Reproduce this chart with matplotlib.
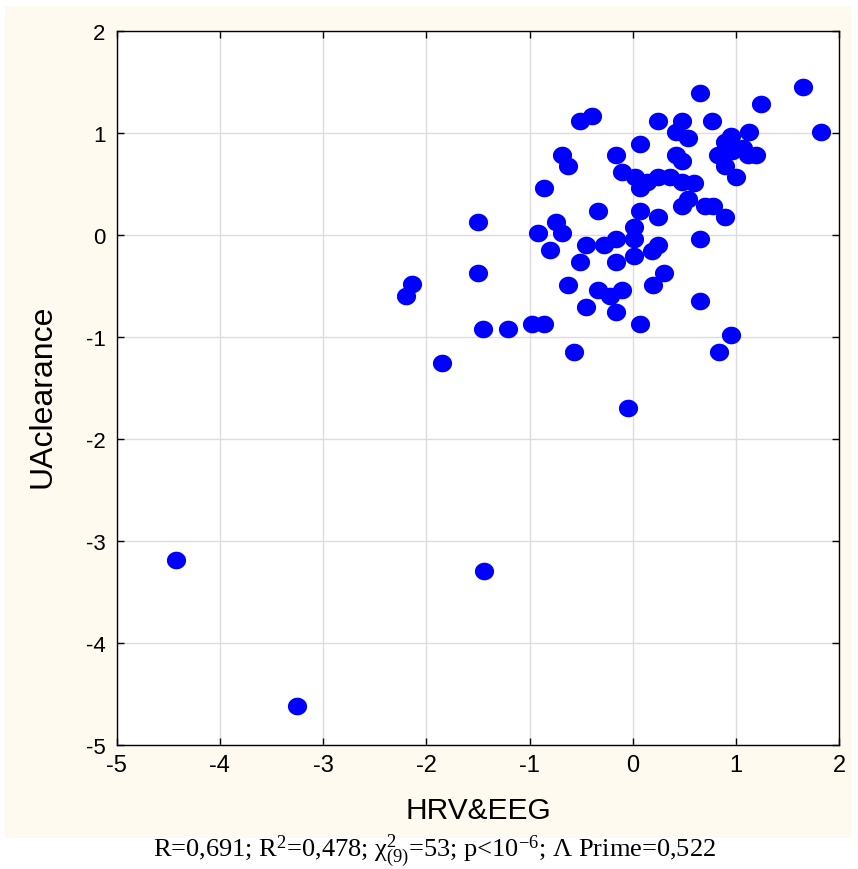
import numpy as np
import matplotlib
matplotlib.use('Agg')
import matplotlib.pyplot as plt
from matplotlib.path import Path
from matplotlib.patches import Rectangle

plt.rcParams['font.family'] = ['Liberation Sans', 'DejaVu Sans']
plt.rcParams['axes.unicode_minus'] = False
plt.rcParams['mathtext.fontset'] = 'custom'
plt.rcParams['mathtext.rm'] = 'Liberation Serif'
plt.rcParams['mathtext.it'] = 'Liberation Serif:italic'
plt.rcParams['mathtext.bf'] = 'Liberation Serif:bold'

# HRV&EEG canonical root vs UA clearance canonical root
hrv_eeg = [1.649, 1.826, 1.239, 0.655, 0.771, 0.478, 0.245, 0.423, 0.539, 0.068,
           1.123, 0.949, 0.891, 1.068, 1.191, 1.116, 0.826, 0.891, 1.004, 0.423,
           0.481, -0.161, -0.394, -0.510, -0.684, -0.626, -0.862, -0.106, 0.019, 0.068,
           0.133, 0.245, 0.365, 0.481, 0.597, 0.539, 0.481, 0.704, 0.778, 0.891,
           0.245, 0.068, -0.336, 0.016, 0.016, 0.655, -0.161, -0.278, -0.455, 0.249,
           0.187, 0.016, -0.161, -0.510, 0.307, 0.191, -0.104, -0.220, -0.336, -0.626,
           -0.455, -0.161, 0.068, 0.655, 0.949, 0.833, -0.045, -0.568, -0.862, -0.978,
           -1.210, -1.446, -1.852, -1.500, -1.500, -0.917, -0.684, -0.745, -0.803, -2.142,
           -2.200, 0.960, -4.420, -3.252, -1.442]
ua_clearance = [1.450, 1.009, 1.287, 1.397, 1.120, 1.120, 1.120, 1.009, 0.953, 0.897,
                1.009, 0.972, 0.910, 0.855, 0.786, 0.786, 0.786, 0.681, 0.567, 0.786,
                0.730, 0.786, 1.172, 1.120, 0.786, 0.675, 0.459, 0.622, 0.567, 0.459,
                0.518, 0.567, 0.567, 0.518, 0.511, 0.354, 0.289, 0.289, 0.289, 0.181,
                0.181, 0.237, 0.237, 0.077, -0.041, -0.041, -0.041, -0.094, -0.094, -0.094,
                -0.153, -0.208, -0.261, -0.261, -0.372, -0.487, -0.536, -0.595, -0.536, -0.487,
                -0.702, -0.758, -0.872, -0.650, -0.980, -1.147, -1.697, -1.147, -0.872, -0.872,
                -0.921, -0.921, -1.255, -0.372, 0.126, 0.018, 0.018, 0.126, -0.146, -0.480,
                -0.595, 0.830, -3.185, -4.621, -3.293]

x_ticks = [-5, -4, -3, -2, -1, 0, 1, 2]
y_ticks = [-5, -4, -3, -2, -1, 0, 1, 2]
caption = ('R=0,691; R$^2$=0,478; $\\mathrm{\\chi}^2_{(9)}$=53; '
           'p<10$^{\\mathrm{-6}}$; $\\mathrm{\\Lambda}$ Prime=0,522')

fig = plt.figure(figsize=(8.58, 8.70), dpi=100, facecolor='white')

# cream panel behind the plot
fig.patches.append(Rectangle((5 / 858, 1 - 839 / 870), 846 / 858, 832 / 870,
                             transform=fig.transFigure, facecolor='#fffaf0',
                             edgecolor='none', zorder=-5))

ax = fig.add_axes([116.5 / 858, 1 - 745.7 / 870, 722.8 / 858, 713.4 / 870])
ax.set_facecolor('white')

# slightly flattened dot
t = np.linspace(0, 2 * np.pi, 60)
dot = Path(np.column_stack([np.cos(t), 0.92 * np.sin(t)]), closed=True)

ax.scatter(hrv_eeg, ua_clearance, marker=dot, s=13.8 ** 2, color='#0000ff',
           linewidths=0, zorder=3)

ax.set_xlim(-5, 2)
ax.set_ylim(-5, 2)
ax.set_xticks(x_ticks)
ax.set_yticks(y_ticks)
ax.grid(True, color='#dcdcdc', linewidth=1.0)
ax.set_axisbelow(True)

for s in ax.spines.values():
    s.set_linewidth(1.0)
    s.set_color('black')

ax.tick_params(axis='both', which='both', direction='in', length=5, width=1,
               top=True, right=True)
ax.tick_params(axis='x', labelsize=17, pad=7)
ax.tick_params(axis='y', labelsize=16, pad=8)

ax.set_xlabel('HRV&EEG', fontsize=21.5)
ax.xaxis.set_label_coords(0.5, (745.7 - 811.5) / 713.4)
ax.xaxis.label.set_va('center')
ax.set_ylabel('UAclearance', fontsize=23)
ax.yaxis.set_label_coords((42 - 116.5) / 722.8, 0.49)
ax.yaxis.label.set_va('center')

fig.text(0.506, 1 - 857 / 870, caption, ha='center', va='baseline',
         fontsize=19, family='Liberation Serif')

fig.savefig('out.png', dpi=100, facecolor='white')
